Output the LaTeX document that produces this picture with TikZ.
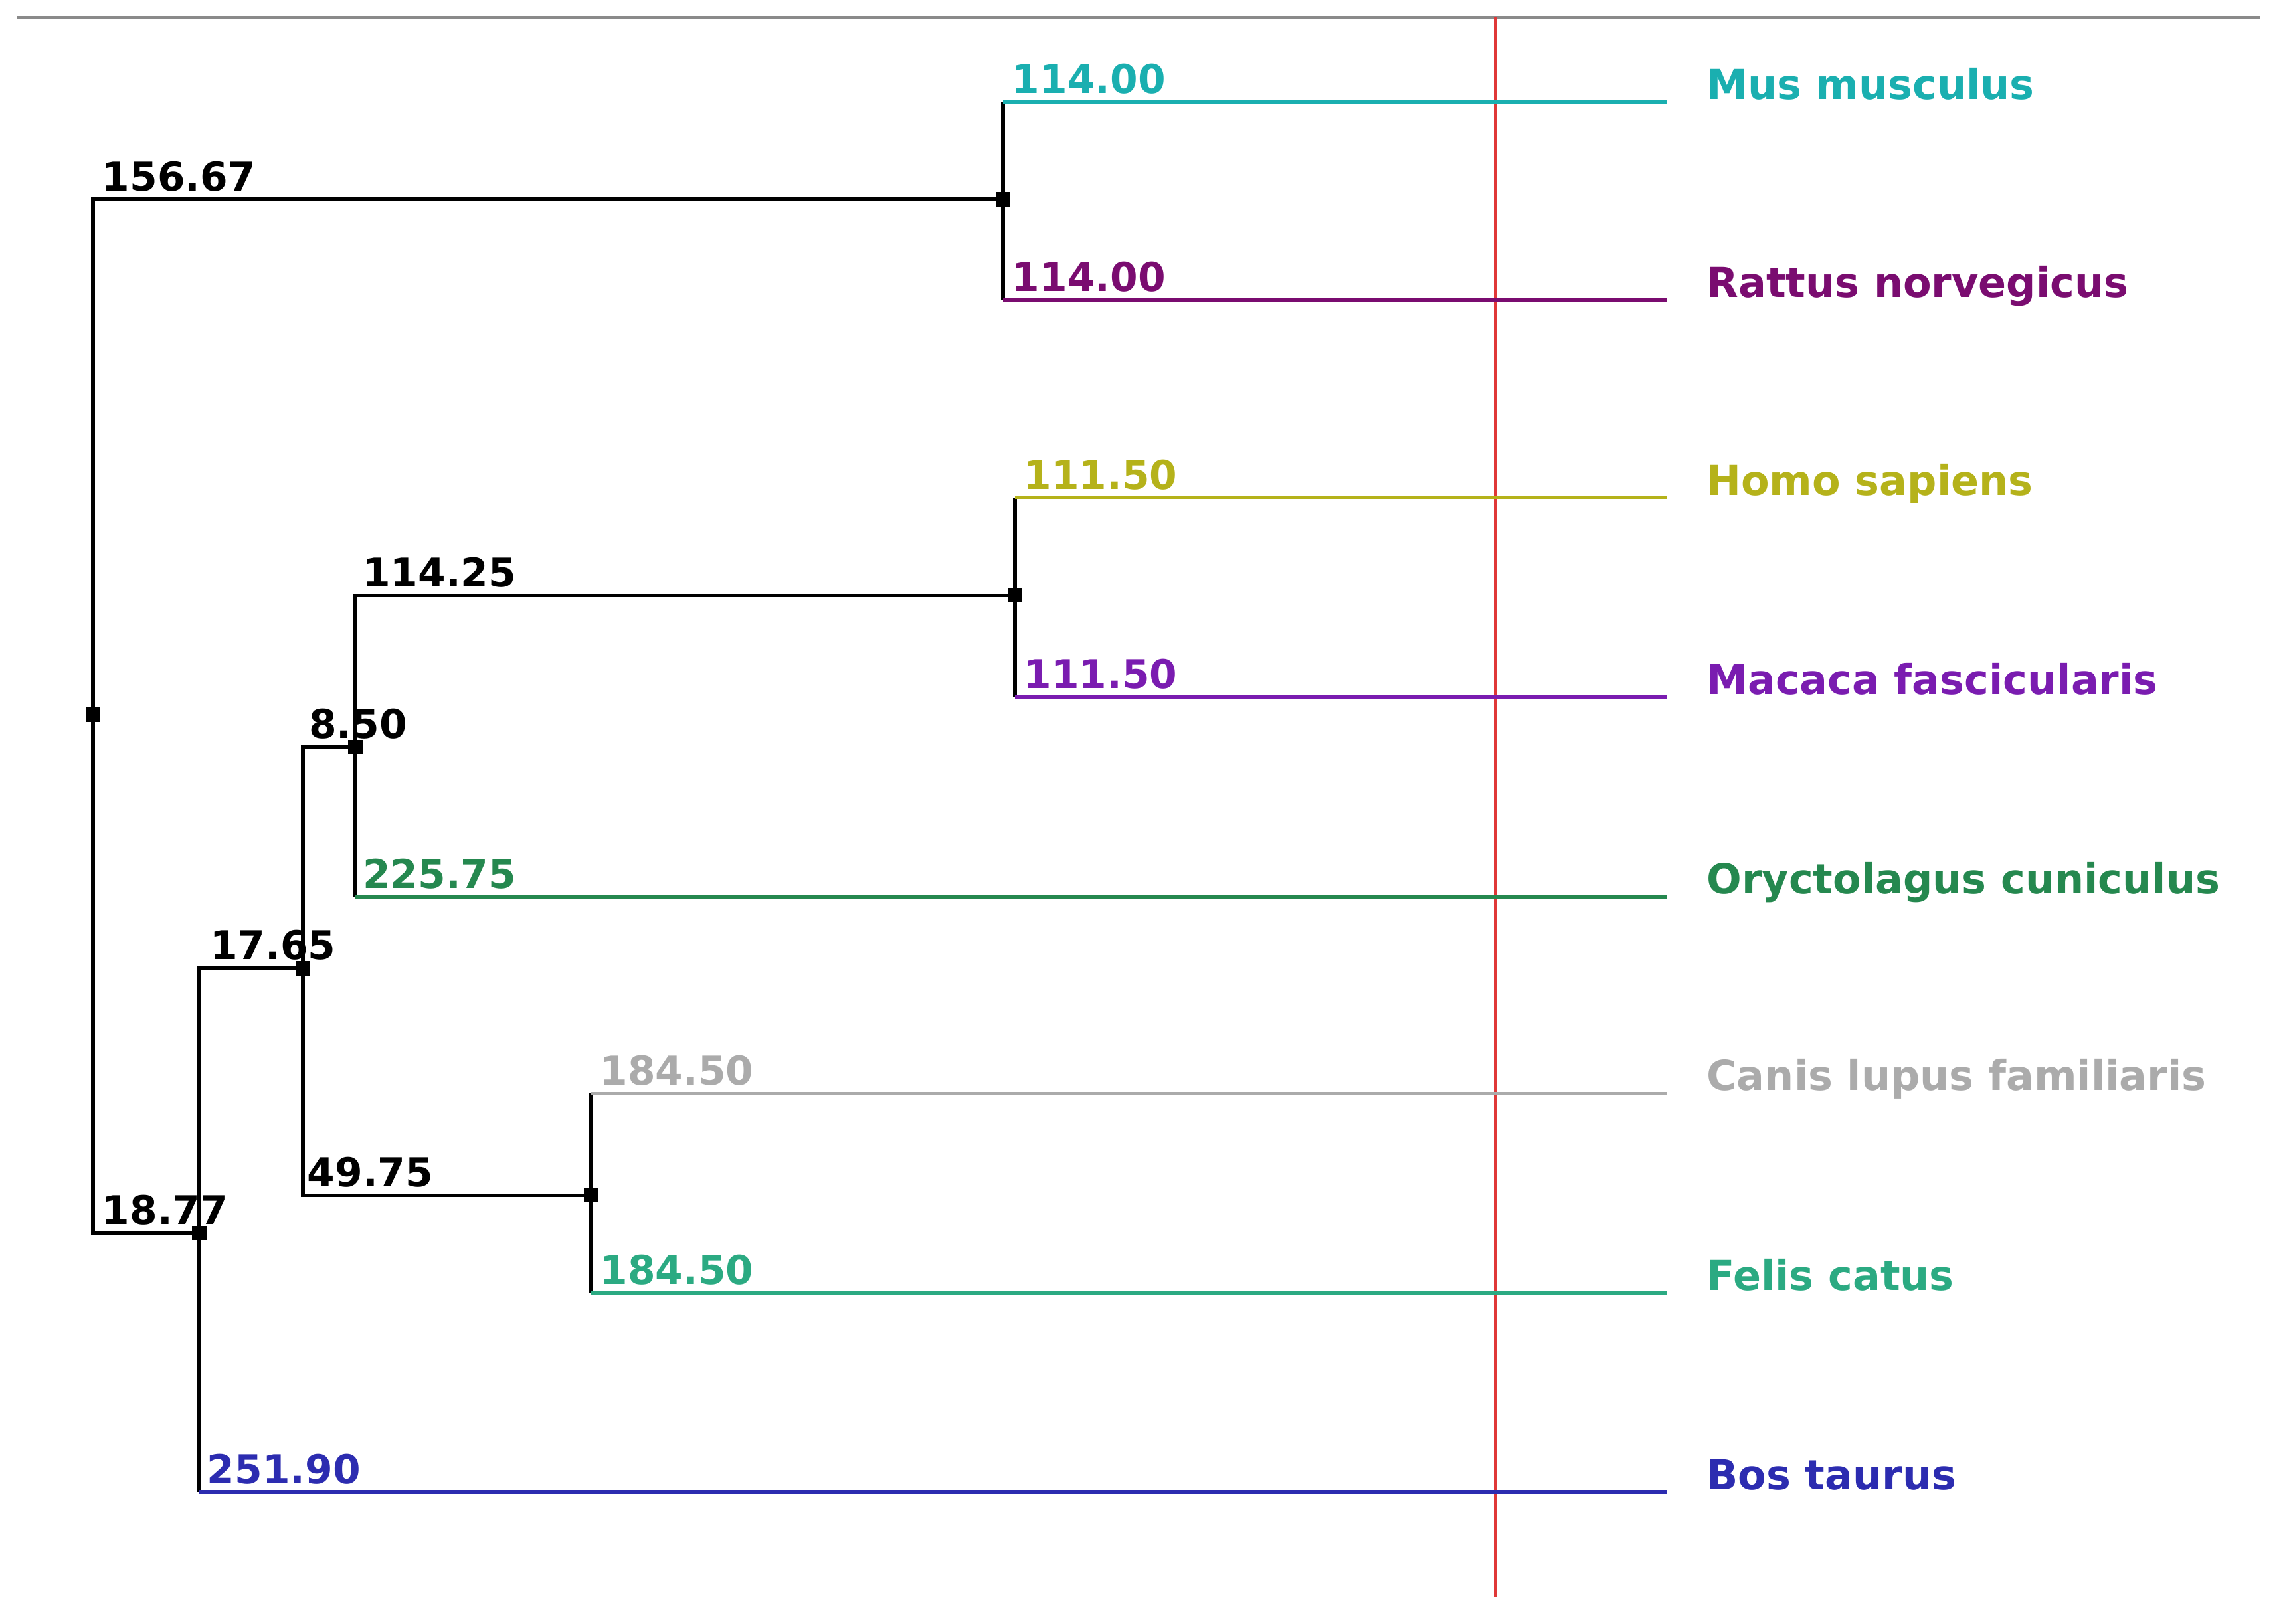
\documentclass[tikz,border=0pt]{standalone}
\usepackage{fontspec}
\setmainfont{DejaVu Sans}
\definecolor{cMus}{HTML}{1AAFB0}
\definecolor{cRat}{HTML}{7A0C70}
\definecolor{cHomo}{HTML}{B5B21A}
\definecolor{cMac}{HTML}{7A1CB0}
\definecolor{cOry}{HTML}{25884F}
\definecolor{cCan}{HTML}{ABABAB}
\definecolor{cFel}{HTML}{2BAA82}
\definecolor{cBos}{HTML}{2C2CB0}
\definecolor{cRed}{HTML}{E03838}
\definecolor{cTop}{HTML}{8A8A8A}
\tikzset{
  junc/.style={fill=black,draw=none,minimum size=9.5pt,inner sep=0pt,rectangle},
  branch/.style={line width=2.6pt,black},
  leafline/.style={line width=2.4pt},
  numlab/.style={anchor=base west,inner sep=0pt,font=\bfseries\fontsize{27.3}{27.3}\selectfont},
  namelab/.style={anchor=base west,inner sep=0pt,font=\bfseries\fontsize{28.3}{28.3}\selectfont}
}
\begin{document}
\begin{tikzpicture}[x=1pt,y=-1pt]
\useasboundingbox[fill=white] (0,0) rectangle (1568,1115);
% top rule and red line
\coordinate (tl) at (12,12);
\coordinate (tr) at (1552,12);
\draw[cTop,line width=1.8pt] (tl) -- (tr);
\coordinate (rtop) at (1027,12);
\coordinate (rbot) at (1027,1097);
\draw[cRed,line width=1.8pt] (rtop) -- (rbot);
% internal nodes
\node[junc] (root) at (64,491) {};
\node[junc] (n1) at (689,137) {};
\node[junc] (n2) at (697,409) {};
\node[junc] (n3) at (244,513) {};
\node[junc] (n4) at (208,665) {};
\node[junc] (n5) at (406,821) {};
\node[junc] (n6) at (137,847) {};
% leaf ends
\coordinate (eMus) at (1145,70);
\coordinate (eRat) at (1145,206);
\coordinate (eHomo) at (1145,342);
\coordinate (eMac) at (1145,479);
\coordinate (eOry) at (1145,616);
\coordinate (eCan) at (1145,751);
\coordinate (eFel) at (1145,888);
\coordinate (eBos) at (1145,1025);
% corners
\coordinate (kMus) at (n1 |- eMus);
\coordinate (kRat) at (n1 |- eRat);
\coordinate (kHomo) at (n2 |- eHomo);
\coordinate (kMac) at (n2 |- eMac);
\coordinate (kOry) at (n3 |- eOry);
\coordinate (kCan) at (n5 |- eCan);
\coordinate (kFel) at (n5 |- eFel);
\coordinate (kBos) at (n6 |- eBos);
% internal branches
\draw[branch] (root.center) |- (n1.center);
\draw[branch] (root.center) |- (n6.center);
\draw[branch] (n6.center) |- (n4.center);
\draw[branch] (n4.center) |- (n3.center);
\draw[branch] (n4.center) |- (n5.center);
\draw[branch] (n3.center) |- (n2.center);
% vertical parts to leaves
\draw[branch] (kMus) -- (kRat);
\draw[branch] (kHomo) -- (kMac);
\draw[branch] (n3.center) -- (kOry);
\draw[branch] (kCan) -- (kFel);
\draw[branch] (n6.center) -- (kBos);
% coloured leaf lines
\draw[leafline,cMus] (kMus) -- (eMus);
\draw[leafline,cRat] (kRat) -- (eRat);
\draw[leafline,cHomo] (kHomo) -- (eHomo);
\draw[leafline,cMac] (kMac) -- (eMac);
\draw[leafline,cOry] (kOry) -- (eOry);
\draw[leafline,cCan] (kCan) -- (eCan);
\draw[leafline,cFel] (kFel) -- (eFel);
\draw[leafline,cBos] (kBos) -- (eBos);
% redraw junction boxes on top
\foreach \n in {root,n1,n2,n3,n4,n5,n6} \fill (\n.north west) rectangle (\n.south east);
% internal branch lengths
\node[numlab] (l1) at (70,131) {156.67};
\node[numlab] (l2) at (70,841) {18.77};
\node[numlab] (l3) at (144,659) {17.65};
\node[numlab] (l4) at (212,507) {8.50};
\node[numlab] (l5) at (211,815) {49.75};
\node[numlab] (l6) at (249,403) {114.25};
% leaf branch lengths
\node[numlab,text=cMus] (m1) at (695,64) {114.00};
\node[numlab,text=cRat] (m2) at (695,200) {114.00};
\node[numlab,text=cHomo] (m3) at (703,336) {111.50};
\node[numlab,text=cMac] (m4) at (703,473) {111.50};
\node[numlab,text=cOry] (m5) at (249,610) {225.75};
\node[numlab,text=cCan] (m6) at (412,745) {184.50};
\node[numlab,text=cFel] (m7) at (412,882) {184.50};
\node[numlab,text=cBos] (m8) at (142,1019) {251.90};
% species names
\node[namelab,text=cMus] (sMus) at (1172,68) {Mus musculus};
\node[namelab,text=cRat] (sRat) at (1172,204) {Rattus norvegicus};
\node[namelab,text=cHomo] (sHomo) at (1172,340) {Homo sapiens};
\node[namelab,text=cMac] (sMac) at (1172,477) {Macaca fascicularis};
\node[namelab,text=cOry] (sOry) at (1172,614) {Oryctolagus cuniculus};
\node[namelab,text=cCan] (sCan) at (1172,749) {Canis lupus familiaris};
\node[namelab,text=cFel] (sFel) at (1172,886) {Felis catus};
\node[namelab,text=cBos] (sBos) at (1172,1023) {Bos taurus};
\end{tikzpicture}
\end{document}
